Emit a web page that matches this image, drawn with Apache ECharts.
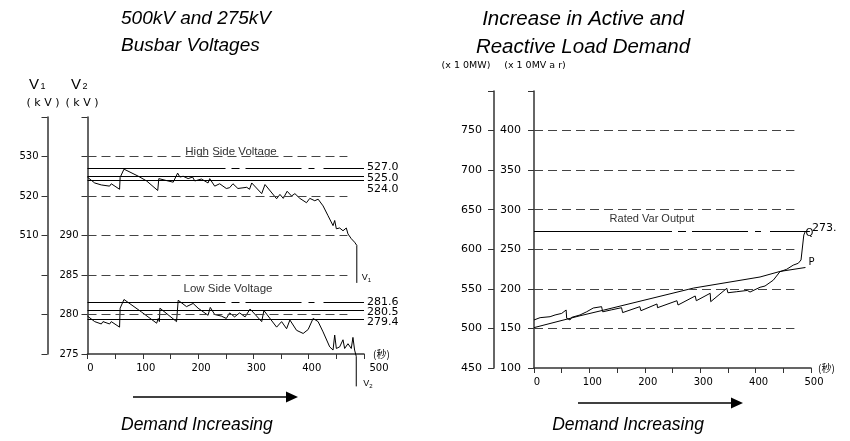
<!DOCTYPE html>
<html>
<head>
<meta charset="utf-8">
<script src="https://cdn.jsdelivr.net/npm/echarts@6/dist/echarts.min.js"></script>
<style>
  html, body { margin: 0; padding: 0; background: #fff; }
  #chart { width: 850px; height: 441px; }
</style>
</head>
<body>
<div id="chart"></div>
<script>
// ---- data -------------------------------------------------------------
// time in seconds, busbar voltages in kV
const v1Data = [
  [0,524.75],[13,523.3],[15,523.8],[25,522.8],[28,523.3],[40,522.5],[43,523.1],[58,521.7],
  [59,524.7],[66,526.8],[92,525.0],[107,523.8],[127,521.4],[129,524.4],[143,523.9],[155,523.5],
  [163,525.8],[167,524.8],[173,525.0],[182,524.4],[190,524.8],[194,523.8],[206,524.3],[218,523.3],
  [221,524.4],[230,522.5],[239,523.1],[251,521.9],[257,522.1],[263,523.1],[272,521.9],[288,522.2],
  [293,521.7],[297,523.3],[315,520.6],[321,522.9],[342,519.3],[348,520.4],[354,519.4],[361,521.2],
  [369,520.0],[375,520.6],[384,519.4],[396,518.3],[402,519.4],[411,518.8],[417,519.2],[426,517.5],
  [435,515.0],[444,512.5],[447,513.8],[450,511.7],[456,511.9],[462,511.2],[468,511.9],[471,510.4],
  [477,509.2],[483,508.3],[487,507.5],[487,498.0]
];
const v2Data = [
  [0,279.8],[13,279.1],[16,279.3],[25,278.8],[28,279.1],[40,278.8],[43,279.1],[58,278.4],
  [59,280.8],[66,281.9],[98,280.3],[125,278.9],[128,279.5],[130,279.1],[131,280.8],[161,279.1],
  [164,281.8],[179,281.0],[191,281.4],[200,280.8],[218,279.9],[222,280.9],[230,280.0],[242,279.8],
  [251,279.5],[257,280.2],[266,279.7],[275,280.2],[285,279.7],[294,280.7],[315,279.1],[319,280.5],
  [342,278.4],[351,279.1],[360,278.2],[366,279.3],[378,278.0],[390,277.6],[399,278.1],[408,279.5],
  [417,279.1],[426,277.8],[438,275.9],[444,275.5],[447,277.4],[450,275.7],[456,275.9],[462,276.8],
  [465,275.7],[471,276.3],[477,275.7],[480,277.1],[483,275.5],[486,274.7],[486,270.9]
];
// reactive output (MVar) and active demand (MW)
const qData = [
  [0,160.7],[11,163.6],[13,162.5],[29,164.8],[31,163.5],[38,167.0],[40,166.0],[50,169.0],
  [58,173.3],[59,162.8],[65,160.7],[68,164.0],[83,167.0],[95,171.0],[107,175.8],[122,177.5],
  [124,171.0],[140,173.5],[158,176.2],[160,170.0],[191,177.5],[193,172.4],[222,180.9],[223,176.2],
  [258,185.0],[260,179.6],[291,191.0],[293,185.0],[318,194.4],[319,183.8],[348,200.7],[350,195.1],
  [366,196.4],[385,198.0],[390,196.0],[408,202.0],[417,203.6],[432,211.0],[444,221.7],[456,224.7],
  [468,230.0],[477,232.3],[482,236.5],[487,268.0],[490,273.0]
];
const pData = [[0,501],[83,516],[125,523],[288,551],[408,565],[444,572],[490,577]];

// reference levels and grid levels
const hvLevels = [527.0, 525.0, 524.0];
const lvLevels = [281.6, 280.5, 279.4];
const ratedVar = 273;
const v1Grid = [530, 520];
const v2Grid = [290, 285, 280];
const mwGrid = [750, 700, 650, 600, 550, 500];
const v1Labels = [510, 520, 530];
const v2Labels = [275, 280, 285, 290];
const mwLabels = [450, 500, 550, 600, 650, 700, 750];
const mvarLabels = [100, 150, 200, 250, 300, 350, 400];
const timeLabels = [0, 100, 200, 300, 400, 500];
const gridEnd = 470;

// ---- styles -------------------------------------------------------------
const SANS = '"Liberation Sans", Arial, sans-serif';
const TICKFONT = '"DejaVu Sans", sans-serif';
const AXIS = '#333';
const GRID_DASH = [9, 5];
const LEVEL_DASH = [138, 6, 8, 6, 56, 7, 6, 9, 60];

function yAxis(grid, min, max, step, offset, labels, margin, size) {
  return {
    type: 'value', gridIndex: grid, position: 'left', offset: offset,
    min: min, max: max, interval: step,
    axisLine: { show: true, onZero: false, lineStyle: { color: AXIS, width: 1.5 } },
    axisTick: { show: true, length: 6, lineStyle: { color: AXIS, width: 1 } },
    splitLine: { show: false },
    axisLabel: {
      margin: margin, fontSize: size, color: '#000', fontFamily: TICKFONT,
      showMinLabel: true, showMaxLabel: true,
      formatter: v => labels.includes(v) ? String(v) : ''
    }
  };
}
function xAxis(grid, gap, lastShift) {
  return {
    type: 'value', gridIndex: grid, min: 0, max: 500, interval: 50,
    name: '(秒)', nameLocation: 'end', nameGap: gap,
    nameTextStyle: { fontSize: 10, color: '#000', fontFamily: '"Noto Sans CJK JP", sans-serif' },
    axisLine: { show: true, onZero: false, lineStyle: { color: AXIS, width: 1.5 } },
    axisTick: { show: true, length: 5, lineStyle: { color: AXIS, width: 1 } },
    splitLine: { show: false },
    axisLabel: {
      margin: 9, fontSize: 10, color: '#000', fontFamily: TICKFONT,
      showMinLabel: true, showMaxLabel: true, padding: [0, 0, 0, 6],
      rich: { e: { fontSize: 10, fontFamily: TICKFONT, color: '#000', padding: [0, 0, 0, lastShift] } },
      formatter: v => {
        if (!timeLabels.includes(v)) return '';
        return v === 500 && lastShift ? '{e|' + v + '}' : String(v);
      }
    }
  };
}

function gridLines(levels) {
  return levels.map(v => [
    { coord: [0, v], lineStyle: { color: '#444', width: 1.2, type: GRID_DASH }, label: { show: false } },
    { coord: [gridEnd, v] }
  ]);
}
// vertical nudge (px) keeps the stacked value labels apart
function shiftedLabel(text, nudge) {
  const pad = nudge >= 0 ? [nudge * 2, 0, 0, 0] : [0, 0, -nudge * 2, 0];
  return {
    show: true, position: 'end', distance: 3,
    formatter: '{n|' + text + '}',
    rich: { n: { fontSize: 11, color: '#000', fontFamily: TICKFONT, padding: pad } }
  };
}
function levelLines(levels, nudges) {
  return levels.map((v, i) => [
    {
      coord: [0, v],
      lineStyle: { color: '#000', width: 1.2, type: i === 0 ? LEVEL_DASH : 'solid' },
      label: shiftedLabel(v.toFixed(1), nudges[i])
    },
    { coord: [500, v] }
  ]);
}

const subRich = {
  v: { fontSize: 9, fontFamily: SANS, color: '#000' },
  s: { fontSize: 6, fontFamily: SANS, color: '#000', padding: [5, 0, 0, 0] }
};

function txt(x, y, text, font, fill, align) {
  return { type: 'text', x: x, y: y, style: { text: text, font: font, fill: fill || '#000', textAlign: align || 'center', textVerticalAlign: 'middle' } };
}

const option = {
  animation: false,
  backgroundColor: '#fff',
  grid: [
    { left: 87.5, top: 117, width: 276.5, height: 237 },
    { left: 534, top: 91, width: 277, height: 277 }
  ],
  xAxis: [xAxis(0, 9, 24), xAxis(1, 7, 0)],
  yAxis: [
    yAxis(0, 275, 305, 5, 0, v2Labels, 9, 10),
    yAxis(0, 480, 540, 10, 40, v1Labels, 9, 10),
    yAxis(1, 100, 450, 50, 0, mvarLabels, 13, 11),
    yAxis(1, 450, 800, 50, 40, mwLabels, 12, 11)
  ],
  series: [
    {
      type: 'line', name: 'V1', xAxisIndex: 0, yAxisIndex: 1, data: v1Data,
      symbol: 'none', clip: false, lineStyle: { color: '#000', width: 1 },
      endLabel: { show: true, formatter: '{v|V}{s|1}', rich: subRich, offset: [3, -5], distance: 2 },
      markLine: {
        silent: true, symbol: ['none', 'none'], animation: false,
        data: gridLines(v1Grid).concat(levelLines(hvLevels, [-1, 2, 9]))
      }
    },
    {
      type: 'line', name: 'V2', xAxisIndex: 0, yAxisIndex: 0, data: v2Data,
      symbol: 'none', clip: false, lineStyle: { color: '#000', width: 1 },
      endLabel: { show: true, formatter: '{v|V}{s|2}', rich: subRich, offset: [5, -3], distance: 2 },
      markLine: {
        silent: true, symbol: ['none', 'none'], animation: false,
        data: gridLines(v2Grid).concat(levelLines(lvLevels, [0, 2, 3]))
      }
    },
    {
      type: 'line', name: 'Q', xAxisIndex: 1, yAxisIndex: 2, data: qData,
      symbol: 'none', clip: false, lineStyle: { color: '#000', width: 1 },
      endLabel: { show: true, formatter: 'Q', fontSize: 10, fontFamily: TICKFONT, color: '#000', distance: 0, offset: [0, 2] },
      markLine: {
        silent: true, symbol: ['none', 'none'], animation: false,
        data: gridLines(mwGrid.map(v => v - 350)).concat([[
          {
            coord: [0, ratedVar],
            lineStyle: { color: '#000', width: 1.2, type: LEVEL_DASH },
            label: Object.assign(shiftedLabel(ratedVar + '.', -3), { distance: 2 })
          },
          { coord: [498, ratedVar] }
        ]])
      }
    },
    {
      type: 'line', name: 'P', xAxisIndex: 1, yAxisIndex: 3, data: pData,
      symbol: 'none', clip: false, lineStyle: { color: '#000', width: 1 },
      endLabel: { show: true, formatter: 'P', fontSize: 10, fontFamily: TICKFONT, color: '#000', distance: 3, offset: [0, -5] }
    }
  ],
  graphic: [
    // titles
    txt(121, 19, '500kV and 275kV', 'italic 19px ' + SANS, '#000', 'left'),
    txt(121, 46, 'Busbar Voltages', 'italic 19px ' + SANS, '#000', 'left'),
    txt(583, 19, 'Increase in Active and', 'italic 20.5px ' + SANS),
    txt(583, 47, 'Reactive Load Demand', 'italic 20.5px ' + SANS),
    // axis headers
    txt(34, 85, 'V', '15px ' + SANS),
    txt(43, 87, '1', '9px ' + SANS),
    txt(76, 85, 'V', '15px ' + SANS),
    txt(85, 87, '2', '9px ' + SANS),
    txt(43, 103, '( k V )', '11px ' + TICKFONT),
    txt(82, 103, '( k V )', '11px ' + TICKFONT),
    txt(466, 66, '(x 1 0MW)', '9.5px ' + TICKFONT),
    txt(535, 66, '(x 1 0MV a r)', '9.5px ' + TICKFONT),
    // annotations
    txt(231, 152, 'High Side Voltage', '11.5px ' + SANS, '#333'),
    txt(228, 289, 'Low Side Voltage', '11.5px ' + SANS, '#333'),
    txt(652, 219, 'Rated Var Output', '11px ' + SANS, '#333'),
    // demand arrows
    { type: 'line', shape: { x1: 133, y1: 397, x2: 288, y2: 397 }, style: { stroke: '#000', lineWidth: 1.3 } },
    { type: 'polygon', shape: { points: [[286, 391.5], [298, 397], [286, 402.5]] }, style: { fill: '#000' } },
    { type: 'line', shape: { x1: 578, y1: 403, x2: 733, y2: 403 }, style: { stroke: '#000', lineWidth: 1.3 } },
    { type: 'polygon', shape: { points: [[731, 397.5], [743, 403], [731, 408.5]] }, style: { fill: '#000' } },
    txt(121, 425, 'Demand Increasing', 'italic 17.5px ' + SANS, '#000', 'left'),
    txt(628, 425, 'Demand Increasing', 'italic 17.5px ' + SANS)
  ]
};

const chart = echarts.init(document.getElementById('chart'), null, { renderer: 'canvas' });
chart.setOption(option);
</script>
</body>
</html>
